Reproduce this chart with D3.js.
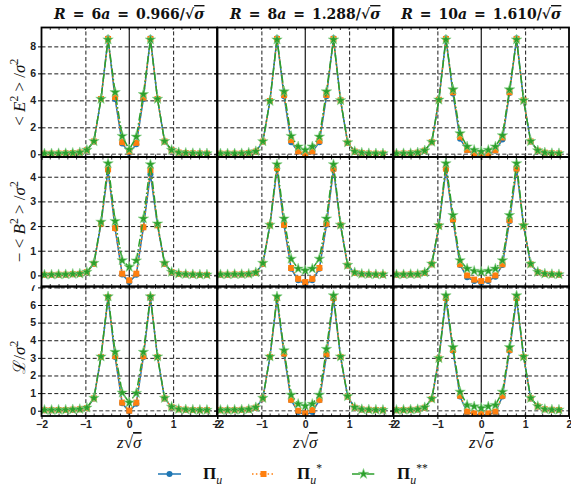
<!DOCTYPE html>
<html><head><meta charset="utf-8">
<script src="https://cdn.jsdelivr.net/npm/d3@7"></script>
<style>body{margin:0;background:#fff} svg{display:block}</style>
</head><body><svg id="c" width="571" height="489"></svg>
<script>
// ---- data ----
const zValues = [-1.932,-1.771,-1.610,-1.449,-1.288,-1.127,-0.966,-0.805,-0.644,-0.483,-0.322,-0.161,0,0.161,0.322,0.483,0.644,0.805,0.966,1.127,1.288,1.449,1.610,1.771];
const titles = ["6a = 0.966", "8a = 1.288", "10a = 1.610"];
const xTicks = [-2,-1,0,1,2];
const yTicksE = [0,2,4,6,8];
const yTicksB = [0,1,2,3,4];
const yTicksL = [0,1,2,3,4,5,6,7];

// <E^2>/sigma^2
const E2_R6_pi   = [0.05,0.05,0.06,0.07,0.09,0.13,0.3,0.95,4.1,8.6,4.1,0.8,0.1,0.75,4.1,8.6,4.1,0.95,0.3,0.13,0.09,0.07,0.06,0.05];
const E2_R6_pis  = [0.05,0.05,0.06,0.07,0.09,0.13,0.3,0.95,4.1,8.55,4.25,0.9,0.2,0.85,4.2,8.55,4.1,0.95,0.3,0.13,0.09,0.07,0.06,0.05];
const E2_R6_piss = [0.06,0.06,0.07,0.08,0.1,0.14,0.32,0.97,4.1,8.5,4.6,1.35,0.35,1.3,4.45,8.5,4.1,0.97,0.32,0.14,0.1,0.08,0.07,0.06];
const E2_R8_pi   = [0.05,0.05,0.05,0.06,0.1,0.2,0.94,3.95,8.6,4.3,0.9,0.2,-0.05,0.2,0.9,4.3,8.6,4.0,0.86,0.2,0.1,0.06,0.05,0.05];
const E2_R8_pis  = [0.05,0.05,0.05,0.06,0.1,0.2,0.94,3.95,8.55,4.4,1.05,0.22,0.02,0.22,1.0,4.4,8.55,4.0,0.86,0.2,0.1,0.06,0.05,0.05];
const E2_R8_piss = [0.06,0.06,0.06,0.07,0.11,0.22,0.96,3.95,8.5,4.65,1.35,0.57,0.32,0.57,1.3,4.65,8.5,4.0,0.88,0.22,0.11,0.07,0.06,0.06];
const E2_R10_pi  = [0.05,0.06,0.07,0.12,0.27,0.9,4.04,8.6,4.5,1.15,0.3,0.02,-0.1,0.02,0.27,1.1,4.55,8.6,4.0,0.95,0.27,0.12,0.07,0.06];
const E2_R10_pis = [0.05,0.06,0.07,0.12,0.27,0.9,4.04,8.55,4.6,1.3,0.33,0.07,-0.05,0.07,0.3,1.25,4.6,8.55,4.0,0.95,0.27,0.12,0.07,0.06];
const E2_R10_piss= [0.06,0.07,0.08,0.13,0.28,0.92,4.04,8.5,4.8,1.55,0.57,0.32,0.2,0.32,0.57,1.4,4.8,8.5,4.0,0.97,0.28,0.13,0.08,0.07];

// -<B^2>/sigma^2
const B2_R6_pi   = [0.02,0.02,0.03,0.03,0.05,0.06,0.13,0.47,2.1,4.27,1.9,0.04,-0.27,0.03,1.94,4.1,2.03,0.47,0.13,0.06,0.04,0.03,0.02,0.02];
const B2_R6_pis  = [0.02,0.02,0.03,0.03,0.05,0.06,0.13,0.47,2.1,4.3,1.92,0.07,-0.2,0.07,1.95,4.27,2.03,0.47,0.13,0.06,0.04,0.03,0.02,0.02];
const B2_R6_piss = [0.03,0.03,0.04,0.04,0.06,0.07,0.14,0.5,2.17,4.54,2.2,0.61,0.34,0.6,2.3,4.5,2.1,0.5,0.14,0.07,0.05,0.04,0.03,0.03];
const B2_R8_pi   = [0.03,0.03,0.04,0.04,0.05,0.1,0.47,2.03,4.33,2.03,0.27,-0.2,-0.34,-0.2,0.27,2.05,4.3,2.03,0.4,0.1,0.05,0.04,0.03,0.03];
const B2_R8_pis  = [0.03,0.03,0.04,0.04,0.05,0.1,0.47,2.03,4.35,2.05,0.3,-0.14,-0.27,-0.14,0.3,2.1,4.33,2.03,0.4,0.1,0.05,0.04,0.03,0.03];
const B2_R8_piss = [0.04,0.04,0.05,0.05,0.06,0.12,0.5,2.05,4.5,2.3,0.67,0.27,0.2,0.27,0.67,2.3,4.5,2.05,0.42,0.12,0.06,0.05,0.04,0.04];
const B2_R10_pi  = [0.03,0.03,0.04,0.04,0.1,0.45,2.0,4.3,2.24,0.42,-0.07,-0.23,-0.3,-0.23,-0.05,0.42,2.2,4.3,2.0,0.45,0.13,0.06,0.04,0.03];
const B2_R10_pis = [0.03,0.03,0.04,0.04,0.1,0.45,2.0,4.33,2.27,0.45,0.0,-0.17,-0.23,-0.17,0.0,0.45,2.24,4.33,2.0,0.45,0.13,0.06,0.04,0.03];
const B2_R10_piss= [0.04,0.04,0.05,0.05,0.12,0.47,2.02,4.54,2.44,0.61,0.27,0.18,0.14,0.18,0.27,0.61,2.44,4.54,2.02,0.47,0.14,0.07,0.05,0.04];

// L/sigma^2
const L_R6_pi    = [0.03,0.03,0.04,0.04,0.06,0.08,0.15,0.7,3.05,6.4,3.05,0.42,-0.05,0.4,3.05,6.4,3.05,0.7,0.2,0.08,0.06,0.04,0.03,0.03];
const L_R6_pis   = [0.03,0.03,0.04,0.04,0.06,0.08,0.15,0.7,3.05,6.45,3.1,0.46,0.0,0.46,3.1,6.45,3.05,0.7,0.2,0.08,0.06,0.04,0.03,0.03];
const L_R6_piss  = [0.04,0.04,0.05,0.05,0.07,0.09,0.17,0.72,3.07,6.48,3.33,1.02,0.46,1.0,3.33,6.48,3.07,0.72,0.22,0.09,0.07,0.05,0.04,0.04];
const L_R8_pi    = [0.03,0.03,0.04,0.05,0.07,0.17,0.7,3.05,6.35,3.2,0.6,-0.07,-0.22,-0.07,0.6,3.13,6.35,3.05,0.8,0.17,0.07,0.05,0.04,0.03];
const L_R8_pis   = [0.03,0.03,0.04,0.05,0.07,0.17,0.7,3.05,6.4,3.25,0.62,0.0,-0.15,0.04,0.62,3.2,6.4,3.05,0.8,0.17,0.07,0.05,0.04,0.03];
const L_R8_piss  = [0.04,0.04,0.05,0.06,0.08,0.19,0.72,3.07,6.48,3.42,0.9,0.38,0.27,0.38,0.9,3.5,6.54,3.07,0.82,0.19,0.08,0.06,0.05,0.04];
const L_R10_pi   = [0.03,0.04,0.05,0.07,0.17,0.66,2.96,6.35,3.4,0.8,-0.1,-0.2,-0.24,-0.2,-0.1,0.8,3.4,6.35,3.05,0.7,0.24,0.08,0.05,0.04];
const L_R10_pis  = [0.03,0.04,0.05,0.07,0.17,0.66,2.96,6.4,3.45,0.85,-0.05,-0.15,-0.18,-0.15,-0.05,0.85,3.45,6.4,3.05,0.7,0.24,0.08,0.05,0.04];
const L_R10_piss = [0.04,0.05,0.06,0.08,0.19,0.68,2.98,6.54,3.6,1.07,0.32,0.24,0.15,0.24,0.32,1.07,3.6,6.54,3.07,0.72,0.26,0.09,0.06,0.05];

// ---- layout / styles ----
const svg = d3.select('#c');
const colLeft = [41.5, 217.5, 393.5], panelW = 175.5;
const rowTop = [27.5, 157, 286.5], panelH = 129.5;
const tickFont = "'Liberation Sans', Arial, sans-serif";
const mathFont = "'Liberation Serif', 'DejaVu Serif', serif";
const titleFont = "'DejaVu Serif', serif";
const styles = [
  {color:'#1f77b4', dash:null, marker:'circle'},
  {color:'#ff7f0e', dash:'1.5,2.4', marker:'square'},
  {color:'#2ca02c', dash:'8,2.4,1.5,2.4', marker:'star'}
];
const rows = [
  {domain:[-0.2,9.4], ticks:yTicksE, data:[[E2_R6_pi,E2_R6_pis,E2_R6_piss],[E2_R8_pi,E2_R8_pis,E2_R8_piss],[E2_R10_pi,E2_R10_pis,E2_R10_piss]]},
  {domain:[-0.45,4.8], ticks:yTicksB, data:[[B2_R6_pi,B2_R6_pis,B2_R6_piss],[B2_R8_pi,B2_R8_pis,B2_R8_piss],[B2_R10_pi,B2_R10_pis,B2_R10_piss]]},
  {domain:[-0.3,7.05], ticks:yTicksL, data:[[L_R6_pi,L_R6_pis,L_R6_piss],[L_R8_pi,L_R8_pis,L_R8_piss],[L_R10_pi,L_R10_pis,L_R10_piss]]}
];

function rich(sel, parts, size) {
  let cur = 0;
  parts.forEach(p => {
    const ts = sel.append('tspan').text(p.t);
    let shift = 0, fs = size;
    if (p.sup) { shift = -0.42*size; fs = 0.68*size; }
    if (p.sub) { shift = 0.28*size; fs = 0.7*size; }
    ts.attr('dy', shift - cur).attr('font-size', fs);
    cur = shift;
    if (p.i) ts.attr('font-style','italic');
    if (p.b) ts.attr('font-weight','bold');
    if (p.o) ts.style('text-decoration','overline');
  });
}

function drawMarker(g, type, color, cx, cy) {
  if (type === 'circle') {
    g.append('circle').attr('cx',cx).attr('cy',cy).attr('r',3).attr('fill',color);
  } else if (type === 'square') {
    g.append('rect').attr('x',cx-3).attr('y',cy-3).attr('width',6).attr('height',6).attr('fill',color);
  } else {
    g.append('path').attr('d', d3.symbol(d3.symbolStar, 34)()).attr('transform',`translate(${cx},${cy})`)
      .attr('fill',color).attr('stroke','#8fd48f').attr('stroke-width',0.6);
  }
}

const defs = svg.append('defs');
defs.append('clipPath').attr('id','clip-lbl7').append('rect').attr('x',-60).attr('y',285.3).attr('width',80).attr('height',200);

rows.forEach((row, r) => {
  [0,1,2].forEach(ci => {
    const x0 = colLeft[ci], y0 = rowTop[r];
    const x = d3.scaleLinear().domain([-2,2]).range([x0, x0+panelW]);
    const y = d3.scaleLinear().domain(row.domain).range([y0+panelH, y0]);
    const clipId = `clip-${r}-${ci}`;
    defs.append('clipPath').attr('id', clipId).append('rect')
      .attr('x', x0).attr('y', y0).attr('width', panelW).attr('height', panelH);
    const g = svg.append('g');
    // grid (y)
    const gy = g.append('g').attr('transform',`translate(${x0},0)`)
      .call(d3.axisLeft(y).tickValues(row.ticks.filter(t=>t!==0)).tickSize(-panelW).tickFormat(''));
    gy.select('.domain').remove();
    gy.selectAll('line').attr('stroke','#000').attr('stroke-width',0.9).attr('stroke-dasharray','4,2.4');
    // grid (x)
    const gx = g.append('g').attr('transform',`translate(0,${y0+panelH})`)
      .call(d3.axisBottom(x).tickValues([-1,1]).tickSize(-panelH).tickFormat(''));
    gx.select('.domain').remove();
    gx.selectAll('line').attr('stroke','#000').attr('stroke-width',0.9).attr('stroke-dasharray','4,2.4');
    // zero lines
    g.append('line').attr('x1',x0).attr('x2',x0+panelW).attr('y1',y(0)).attr('y2',y(0))
      .attr('stroke','#777').attr('stroke-width',1.4).attr('stroke-dasharray','4,2.4');
    g.append('line').attr('x1',x(0)).attr('x2',x(0)).attr('y1',y0).attr('y2',y0+panelH)
      .attr('stroke','#000').attr('stroke-width',1.1);
    // series
    const dg = g.append('g').attr('clip-path',`url(#${clipId})`);
    row.data[ci].forEach((vals, si) => {
      const st = styles[si];
      const pts = zValues.map((z,i)=>[z, vals[i]]);
      const line = d3.line().x(d=>x(d[0])).y(d=>y(d[1]));
      const p = dg.append('path').attr('d', line(pts)).attr('fill','none')
        .attr('stroke', st.color).attr('stroke-width',1.5).attr('stroke-linejoin','miter');
      if (st.dash) p.attr('stroke-dasharray', st.dash);
      pts.forEach(d => drawMarker(dg, st.marker, st.color, x(d[0]), y(d[1])));
    });
    // minor ticks top/bottom inward
    const mt = g.append('g');
    d3.range(-2, 2.001, 0.2).forEach(v => {
      mt.append('line').attr('x1',x(v)).attr('x2',x(v)).attr('y1',y0).attr('y2',y0+2.5).attr('stroke','#000').attr('stroke-width',0.8);
      mt.append('line').attr('x1',x(v)).attr('x2',x(v)).attr('y1',y0+panelH).attr('y2',y0+panelH-2.5).attr('stroke','#000').attr('stroke-width',0.8);
    });
    // y axis ticks and labels
    const ya = g.append('g').attr('transform',`translate(${x0},0)`)
      .call(d3.axisLeft(y).tickValues(row.ticks).tickSize(3.5).tickPadding(2).tickFormat(ci===0? d3.format('d') : ''));
    ya.select('.domain').remove();
    ya.selectAll('line').attr('stroke','#000').attr('stroke-width',1);
    ya.selectAll('text').attr('font-family',tickFont).attr('font-weight','bold').attr('font-size',10.5).attr('fill','#222');
    if (r === 2 && ci === 0) ya.attr('clip-path','url(#clip-lbl7)');
    // x axis ticks
    const xa = g.append('g').attr('transform',`translate(0,${y0+panelH})`)
      .call(d3.axisBottom(x).tickValues(xTicks).tickSize(3).tickPadding(2).tickFormat(r===2? d3.format('d') : ''));
    xa.select('.domain').remove();
    xa.selectAll('line').attr('stroke','#000').attr('stroke-width',1);
    xa.selectAll('text').attr('font-family',tickFont).attr('font-weight','bold').attr('font-size',10.5).attr('fill','#222');
    // frame
    g.append('rect').attr('x',x0).attr('y',y0).attr('width',panelW).attr('height',panelH)
      .attr('fill','none').attr('stroke','#000').attr('stroke-width',1.8);
  });
});

// titles (math-style wide spacing around "=")
const eqSp = '\u2002=\u2002';
titles.forEach((t, ci) => {
  const [lhs, rhs] = t.split(' = ');
  const n = lhs.replace('a','');
  const tx = svg.append('text').attr('x', colLeft[ci]+panelW/2).attr('y',19)
    .attr('text-anchor','middle').attr('font-family',titleFont).attr('font-weight','bold').attr('fill','#111');
  rich(tx, [{t:'R',i:true},{t:eqSp+n},{t:'a',i:true},{t:eqSp+rhs+'/√'},{t:'σ',i:true,o:true}], 14);
});

// y labels
const yLabels = [
  [{t:'< '},{t:'E',i:true},{t:'2',sup:true},{t:' > /'},{t:'σ',i:true},{t:'2',sup:true}],
  [{t:'− < '},{t:'B',i:true},{t:'2',sup:true},{t:' > /'},{t:'σ',i:true},{t:'2',sup:true}],
  [{t:'ℒ'},{t:'/'},{t:'σ',i:true},{t:'2',sup:true}]
];
yLabels.forEach((parts, r) => {
  const cy = rowTop[r] + panelH/2 - (r===2? -6 : 0);
  const tx = svg.append('text').attr('transform',`translate(25,${cy}) rotate(-90)`)
    .attr('text-anchor','middle').attr('font-family',mathFont).attr('fill','#111');
  rich(tx, parts, 17);
});

// x labels
[0,1,2].forEach(ci => {
  const tx = svg.append('text').attr('x', colLeft[ci]+panelW/2).attr('y',448)
    .attr('text-anchor','middle').attr('font-family',mathFont).attr('fill','#111');
  rich(tx, [{t:'z',i:true},{t:'√'},{t:'σ',i:true,o:true}], 17);
});

// legend
const legX = [158, 252, 352];
const legText = [
  [{t:'Π',b:true},{t:'u',i:true,sub:true}],
  [{t:'Π',b:true},{t:'u',i:true,sub:true},{t:'*',sup:true}],
  [{t:'Π',b:true},{t:'u',i:true,sub:true},{t:'**',sup:true}]
];
const legY = 474;
styles.forEach((st, i) => {
  const lx = legX[i];
  const l = svg.append('line').attr('x1',lx).attr('x2',lx+23).attr('y1',legY).attr('y2',legY)
    .attr('stroke',st.color).attr('stroke-width',1.5);
  if (st.dash) l.attr('stroke-dasharray', st.dash);
  drawMarker(svg, st.marker, st.color, lx+11.5, legY);
  const tx = svg.append('text').attr('x', lx+45).attr('y', legY+5)
    .attr('font-family',mathFont).attr('fill','#111');
  rich(tx, legText[i], 17);
});
</script></body></html>
